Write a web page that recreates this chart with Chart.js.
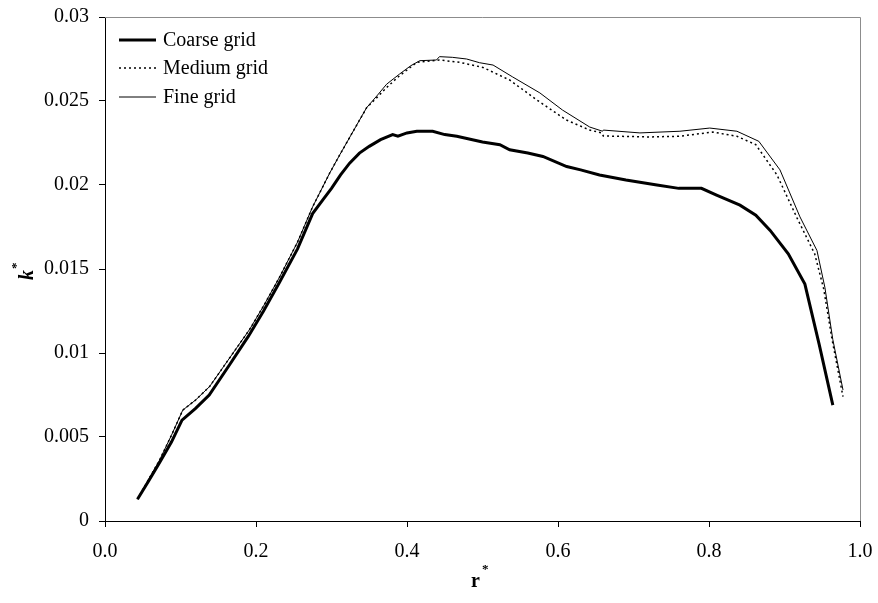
<!DOCTYPE html>
<html>
<head>
<meta charset="utf-8">
<script src="https://cdn.jsdelivr.net/npm/chart.js@4"></script>
<style>
  html, body { margin: 0; padding: 0; background: #fff; }
  #chart { display: block; }
</style>
</head>
<body>
<canvas id="chart" width="878" height="603"></canvas>
<script>
// values
const coarseR = [0.043, 0.058, 0.072, 0.088, 0.102, 0.12, 0.138, 0.165, 0.19, 0.21, 0.231, 0.255, 0.275, 0.29, 0.30, 0.312, 0.324, 0.337, 0.35, 0.365, 0.381, 0.388, 0.40, 0.413, 0.434, 0.45, 0.466, 0.50, 0.523, 0.536, 0.56, 0.58, 0.6115, 0.63, 0.655, 0.69, 0.731, 0.76, 0.79, 0.81, 0.841, 0.862, 0.881, 0.905, 0.927, 0.946, 0.964];
const coarseK = [0.0013, 0.0024, 0.00345, 0.0047, 0.006, 0.0067, 0.0075, 0.0093, 0.011, 0.0125, 0.0142, 0.0162, 0.0183, 0.0192, 0.0198, 0.0206, 0.0213, 0.0219, 0.0223, 0.0227, 0.023, 0.0229, 0.0231, 0.0232, 0.0232, 0.023, 0.0229, 0.02256, 0.0224, 0.0221, 0.0219, 0.0217, 0.0211, 0.0209, 0.0206, 0.0203, 0.02, 0.0198, 0.0198, 0.0194, 0.0188, 0.0182, 0.0173, 0.0159, 0.0141, 0.0105, 0.0069];

const mediumR = [0.043, 0.058, 0.072, 0.088, 0.103, 0.12, 0.1385, 0.165, 0.1915, 0.21, 0.231, 0.255, 0.275, 0.2975, 0.311, 0.33, 0.3465, 0.36, 0.373, 0.39, 0.413, 0.443, 0.47, 0.5005, 0.536, 0.572, 0.611, 0.642, 0.658, 0.66, 0.7215, 0.76, 0.805, 0.837, 0.862, 0.89, 0.917, 0.94, 0.952, 0.963, 0.9775];
const mediumK = [0.0013, 0.0025, 0.0036, 0.0051, 0.0066, 0.0072, 0.008, 0.0097, 0.0114, 0.0128, 0.0145, 0.0166, 0.0187, 0.0207, 0.0218, 0.0233, 0.0246, 0.0252, 0.0258, 0.0265, 0.0273, 0.02744, 0.0273, 0.027, 0.02625, 0.02506, 0.02387, 0.02327, 0.0231, 0.02292, 0.02286, 0.0229, 0.02315, 0.0229, 0.0224, 0.0206, 0.018, 0.0159, 0.0138, 0.0108, 0.0074];

const fineR = [0.043, 0.058, 0.072, 0.088, 0.103, 0.12, 0.1385, 0.165, 0.1915, 0.21, 0.231, 0.255, 0.275, 0.2975, 0.311, 0.33, 0.3465, 0.36, 0.373, 0.39, 0.405, 0.417, 0.439, 0.443, 0.46, 0.479, 0.496, 0.514, 0.54, 0.576, 0.606, 0.642, 0.659, 0.66, 0.7085, 0.7615, 0.801, 0.837, 0.866, 0.894, 0.9205, 0.943, 0.9535, 0.964, 0.9775];
const fineK = [0.0013, 0.0025, 0.0036, 0.0051, 0.0066, 0.0072, 0.008, 0.0097, 0.0114, 0.0128, 0.0145, 0.0166, 0.0187, 0.0207, 0.0218, 0.0233, 0.0246, 0.0253, 0.026, 0.0266, 0.0271, 0.0274, 0.02744, 0.02764, 0.0276, 0.0275, 0.02728, 0.02714, 0.02643, 0.02548, 0.02446, 0.02345, 0.0232, 0.02327, 0.0231, 0.0232, 0.02339, 0.0232, 0.0226, 0.0209, 0.0181, 0.0161, 0.0139, 0.0108, 0.0078];

const seriesNames = ['Coarse grid', 'Medium grid', 'Fine grid'];
const yTickLabels = ['0', '0.005', '0.01', '0.015', '0.02', '0.025', '0.03'];
const xTickLabels = ['0.0', '0.2', '0.4', '0.6', '0.8', '1.0'];

const FONT = "'Liberation Serif', 'Times New Roman', serif";

const toPoints = (rs, ks) => rs.map((r, i) => ({ x: r, y: ks[i] }));

const styles = [
    { borderWidth: 3, borderDash: [] },
    { borderWidth: 1.5, borderDash: [2, 3] },
    { borderWidth: 1, borderDash: [] },
];

// grey frame on top and right of the plot
const framePlugin = {
    id: 'frame',
    beforeDatasetsDraw(chart) {
        const { ctx, chartArea: a } = chart;
        ctx.save();
        ctx.strokeStyle = '#8c8c8c';
        ctx.lineWidth = 1;
        ctx.beginPath();
        ctx.moveTo(a.left, a.top + 0.5);
        ctx.lineTo(a.right + 0.5, a.top + 0.5);
        ctx.lineTo(a.right + 0.5, a.bottom);
        ctx.stroke();
        ctx.restore();
    },
};

// legend inside the plot and the axis titles with superscript stars
const extrasPlugin = {
    id: 'extras',
    afterDraw(chart) {
        const ctx = chart.ctx;
        ctx.save();
        ctx.fillStyle = '#000';
        ctx.strokeStyle = '#000';
        ctx.textBaseline = 'middle';
        ctx.font = '20px ' + FONT;
        const rows = [40, 68, 97];
        seriesNames.forEach((name, i) => {
            ctx.lineWidth = styles[i].borderWidth;
            ctx.setLineDash(styles[i].borderDash);
            ctx.beginPath();
            ctx.moveTo(119, rows[i]);
            ctx.lineTo(156, rows[i]);
            ctx.stroke();
            ctx.setLineDash([]);
            ctx.textAlign = 'left';
            ctx.fillText(name, 163, rows[i] + 1);
        });

        // x title
        ctx.textAlign = 'left';
        ctx.textBaseline = 'alphabetic';
        ctx.font = 'bold 20px ' + FONT;
        ctx.fillText('r', 471, 587);
        ctx.font = 'bold 13px ' + FONT;
        ctx.fillText('*', 482, 573);

        // y title
        ctx.translate(33, 280);
        ctx.rotate(-Math.PI / 2);
        ctx.font = 'italic bold 20px ' + FONT;
        ctx.fillText('k', 0, 0);
        ctx.font = 'bold 13px ' + FONT;
        ctx.fillText('*', 11, -13);
        ctx.restore();
    },
};

new Chart(document.getElementById('chart'), {
    type: 'line',
    data: {
        datasets: [
            { label: seriesNames[0], data: toPoints(coarseR, coarseK) },
            { label: seriesNames[1], data: toPoints(mediumR, mediumK) },
            { label: seriesNames[2], data: toPoints(fineR, fineK) },
        ].map((d, i) => ({
            ...d,
            borderColor: '#000',
            backgroundColor: '#000',
            borderWidth: styles[i].borderWidth,
            borderDash: styles[i].borderDash,
            pointRadius: 0,
            tension: 0,
            fill: false,
        })),
    },
    options: {
        responsive: false,
        animation: false,
        layout: { padding: { top: 17, right: 18, left: 0, bottom: 0 } },
        plugins: {
            legend: { display: false },
            tooltip: { enabled: false },
        },
        scales: {
            x: {
                type: 'linear',
                min: 0,
                max: 1,
                afterFit: s => { s.height = 82; s.paddingLeft = 0; s.paddingRight = 0; },
                afterBuildTicks: s => { s.ticks = xTickLabels.map(t => ({ value: parseFloat(t) })); },
                ticks: {
                    callback: (v, i) => xTickLabels[i],
                    color: '#000',
                    font: { family: FONT, size: 20 },
                    padding: 13,
                    maxRotation: 0,
                },
                grid: { display: true, drawOnChartArea: false, drawTicks: true, tickLength: 6, color: '#000' },
                border: { display: true, color: '#000', width: 1 },
            },
            y: {
                type: 'linear',
                min: 0,
                max: 0.03,
                afterFit: s => { s.width = 105; s.paddingTop = 0; s.paddingBottom = 0; },
                afterBuildTicks: s => { s.ticks = yTickLabels.map(t => ({ value: parseFloat(t) })); },
                ticks: {
                    callback: (v, i) => yTickLabels[i],
                    color: '#000',
                    font: { family: FONT, size: 20 },
                    padding: 10,
                },
                grid: { display: true, drawOnChartArea: false, drawTicks: true, tickLength: 6, color: '#000' },
                border: { display: true, color: '#000', width: 1 },
            },
        },
    },
    plugins: [framePlugin, extrasPlugin],
});
</script>
</body>
</html>
